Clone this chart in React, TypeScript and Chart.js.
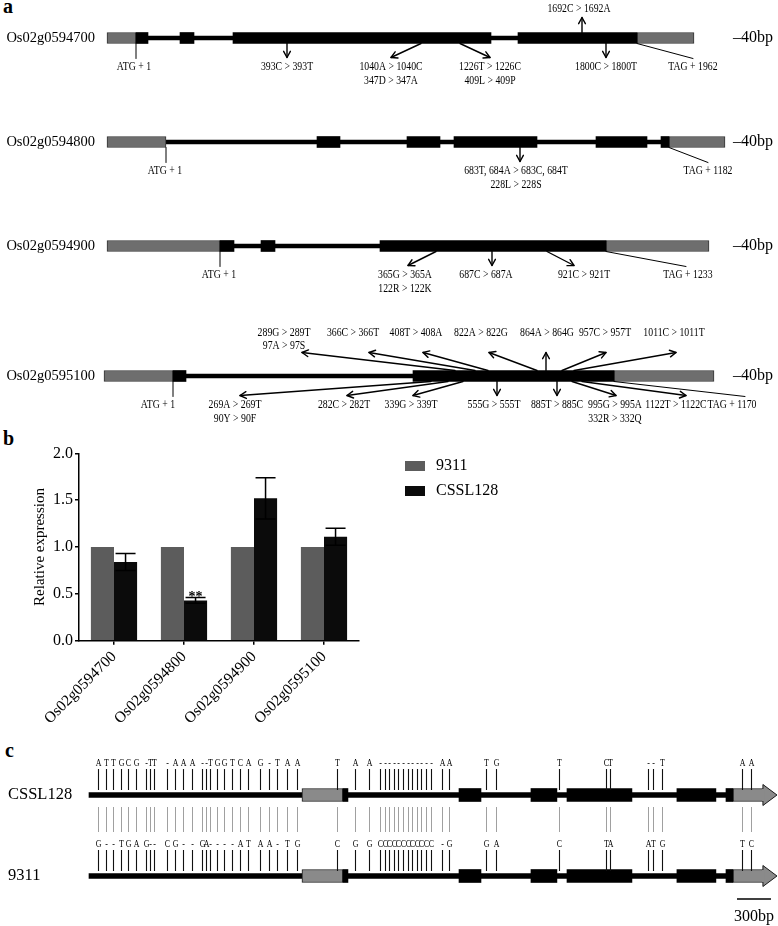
import React, { useEffect, useRef } from 'react';
import { Chart, registerables } from 'chart.js';

Chart.register(...registerables);

const SERIF = '"Liberation Serif", "Times New Roman", Times, serif';

// ---------------- Panel a : gene structures ----------------
const geneIds = ['Os02g0594700', 'Os02g0594800', 'Os02g0594900', 'Os02g0595100'];
// positions along each gene model (diagram units)
const geneUTRs: number[][][] = [
  [[0, 29], [530, 587]],
  [[0, 59], [562, 618]],
  [[0, 113], [499, 602]],
  [[-3, 66], [507, 607]],
];
const geneExons: number[][][] = [
  [[29, 41], [73, 87], [126, 384], [411, 530]],
  [[210, 233], [300, 333], [347, 430], [489, 540], [554, 562]],
  [[113, 127], [154, 168], [273, 499]],
  [[66, 79], [306, 507]],
];
const geneIntrons: number[][] = [[29, 530], [59, 562], [113, 499], [66, 507]];
const geneScaleLabel = '–40bp';
const geneScaleLabelPos = 626;

type Note = { at: number; to: number; tx?: number; side: 'up' | 'down'; kind: 'arrow' | 'line'; lines: string[] };

const notes0594700: Note[] = [
  { at: 29, to: 29, tx: 27, side: 'down', kind: 'line', lines: ['ATG + 1'] },
  { at: 180, to: 180, side: 'down', kind: 'arrow', lines: ['393C > 393T'] },
  { at: 314, to: 284, side: 'down', kind: 'arrow', lines: ['1040A > 1040C', '347D > 347A'] },
  { at: 353, to: 383, side: 'down', kind: 'arrow', lines: ['1226T > 1226C', '409L > 409P'] },
  { at: 499, to: 499, side: 'down', kind: 'arrow', lines: ['1800C > 1800T'] },
  { at: 475, to: 475, tx: 472, side: 'up', kind: 'arrow', lines: ['1692C > 1692A'] },
  { at: 530, to: 586, side: 'down', kind: 'line', lines: ['TAG + 1962'] },
];
const notes0594800: Note[] = [
  { at: 59, to: 59, tx: 58, side: 'down', kind: 'line', lines: ['ATG + 1'] },
  { at: 413, to: 413, tx: 409, side: 'down', kind: 'arrow', lines: ['683T, 684A > 683C, 684T', '228L > 228S'] },
  { at: 562, to: 601, side: 'down', kind: 'line', lines: ['TAG + 1182'] },
];
const notes0594900: Note[] = [
  { at: 113, to: 113, tx: 112, side: 'down', kind: 'line', lines: ['ATG + 1'] },
  { at: 329, to: 301, tx: 298, side: 'down', kind: 'arrow', lines: ['365G > 365A', '122R > 122K'] },
  { at: 385, to: 385, tx: 379, side: 'down', kind: 'arrow', lines: ['687C > 687A'] },
  { at: 440, to: 467, tx: 477, side: 'down', kind: 'arrow', lines: ['921C > 921T'] },
  { at: 499, to: 579, tx: 581, side: 'down', kind: 'line', lines: ['TAG + 1233'] },
];
const notes0595100: Note[] = [
  { at: 348, to: 195, tx: 177, side: 'up', kind: 'arrow', lines: ['289G > 289T', '97A > 97S'] },
  { at: 368, to: 262, tx: 246, side: 'up', kind: 'arrow', lines: ['366C > 366T'] },
  { at: 381, to: 316, tx: 309, side: 'up', kind: 'arrow', lines: ['408T > 408A'] },
  { at: 430, to: 382, tx: 374, side: 'up', kind: 'arrow', lines: ['822A > 822G'] },
  { at: 439, to: 439, tx: 440, side: 'up', kind: 'arrow', lines: ['864A > 864G'] },
  { at: 455, to: 499, tx: 498, side: 'up', kind: 'arrow', lines: ['957C > 957T'] },
  { at: 467, to: 569, tx: 567, side: 'up', kind: 'arrow', lines: ['1011C > 1011T'] },
  { at: 66, to: 66, tx: 51, side: 'down', kind: 'line', lines: ['ATG + 1'] },
  { at: 324, to: 133, tx: 128, side: 'down', kind: 'arrow', lines: ['269A > 269T', '90Y > 90F'] },
  { at: 341, to: 240, tx: 237, side: 'down', kind: 'arrow', lines: ['282C > 282T'] },
  { at: 356, to: 306, tx: 304, side: 'down', kind: 'arrow', lines: ['339G > 339T'] },
  { at: 390, to: 390, tx: 387, side: 'down', kind: 'arrow', lines: ['555G > 555T'] },
  { at: 450, to: 450, side: 'down', kind: 'arrow', lines: ['885T > 885C'] },
  { at: 465, to: 509, tx: 508, side: 'down', kind: 'arrow', lines: ['995G > 995A', '332R > 332Q'] },
  { at: 475, to: 579, tx: 569, side: 'down', kind: 'arrow', lines: ['1122T > 1122C'] },
  { at: 507, to: 638, tx: 625, side: 'down', kind: 'line', lines: ['TAG + 1170'] },
];
const geneNotes = [notes0594700, notes0594800, notes0594900, notes0595100];

// ---------------- Panel b : relative expression ----------------
const exprSeries = ['9311', 'CSSL128'];
const expr9311 = [1.0, 1.0, 1.0, 1.0];
const exprCSSL128 = [0.84, 0.43, 1.52, 1.11];
const errCSSL128 = [0.09, 0.03, 0.22, 0.09];
const sigCSSL128 = ['', '**', '', ''];
const exprTicks = [0, 0.5, 1.0, 1.5, 2.0];

// ---------------- Panel c : sequence alignment (bp) ----------------
const alignRows = ['CSSL128', '9311'];
const cGeneSpan = [0, 5620];
const cUTRs = [[1879, 2241], [5682, 5947]];
const cExons = [[2241, 2285], [3265, 3459], [3900, 4129], [4218, 4791], [5188, 5532], [5621, 5682]];
const cArrowHead = [5947, 6071];
const cAxisMax = 6080;
const snpPos = [
  77, 150, 214, 280, 347, 415, 500, 538, 576, 686, 759, 832, 906, 994, 1032, 1068, 1127, 1191, 1259, 1332,
  1406, 1509, 1591, 1662, 1750, 1833,
  2188, 2347, 2471,
  2568, 2608, 2649, 2690, 2730, 2771, 2811, 2852, 2892, 2933, 2974, 3014,
  3115, 3176, 3503, 3591, 4147, 4562, 4597, 4932, 4976, 5056, 5762, 5841,
];
const snpCSSL128 = ('ATTGCG-TT-AAA--TGGTCAG-TAA' + 'TAA' + '------------' + 'AA' + 'TG' + 'T' + 'CT' + '--T' + 'AA').split('');
const snp9311 = ('G--TGAG--CG--GA----ATAA-TG' + 'CGG' + 'CCCCCCCCCCCC' + '-G' + 'GA' + 'C' + 'TA' + 'ATG' + 'TC').split('');
const scaleBarStart = 5718;
const scaleBarBp = 300;

// ---------------- layout (styling only) ----------------
const ROWS = [
  { center: 38, upText: 24, upArrow: 15 },
  { center: 142, upText: 24, upArrow: 15 },
  { center: 245.5, upText: 24, upArrow: 15 },
  { center: 376, upText: 38, upArrow: 18 },
];
const BAR_HALF = 5.5;

function arrowHead(ctx: CanvasRenderingContext2D, x0: number, y0: number, x1: number, y1: number) {
  const a = Math.atan2(y1 - y0, x1 - x0);
  const len = 7;
  const sp = 0.5;
  ctx.beginPath();
  ctx.moveTo(x1 - len * Math.cos(a - sp), y1 - len * Math.sin(a - sp));
  ctx.lineTo(x1, y1);
  ctx.lineTo(x1 - len * Math.cos(a + sp), y1 - len * Math.sin(a + sp));
  ctx.stroke();
}

function condensedText(ctx: CanvasRenderingContext2D, t: string, x: number, y: number, sx: number) {
  ctx.save();
  ctx.translate(x, y);
  ctx.scale(sx, 1);
  ctx.fillText(t, 0, 0);
  ctx.restore();
}

function geneRowConfig(r: number): any {
  const row = geneIds[r];
  const lay = ROWS[r];
  const seg = (arr: number[][]) => arr.map((s) => ({ x: s, y: row }));
  const notesPlugin = {
    id: 'geneNotes' + r,
    afterDatasetsDraw(chart: any) {
      const ctx: CanvasRenderingContext2D = chart.ctx;
      const xs = chart.scales.x;
      const yc = chart.scales.y.getPixelForValue(0);
      ctx.save();
      ctx.strokeStyle = '#000';
      ctx.fillStyle = '#000';
      ctx.lineCap = 'round';
      ctx.lineJoin = 'round';
      for (const n of geneNotes[r]) {
        const up = n.side === 'up';
        const x0 = xs.getPixelForValue(n.at);
        const x1 = xs.getPixelForValue(n.to);
        const y0 = up ? yc - BAR_HALF : yc + BAR_HALF;
        const len = n.kind === 'line' ? 15 : up ? lay.upArrow : 14;
        const y1 = up ? y0 - len : y0 + len;
        ctx.lineWidth = n.kind === 'line' ? 1 : 1.4;
        ctx.beginPath();
        ctx.moveTo(x0, y0);
        ctx.lineTo(x1, y1);
        ctx.stroke();
        if (n.kind === 'arrow') arrowHead(ctx, x0, y0, x1, y1);
        ctx.font = `11.5px ${SERIF}`;
        ctx.textAlign = 'center';
        ctx.textBaseline = 'middle';
        const tx = xs.getPixelForValue(n.tx ?? n.to);
        const ty = up ? y0 - lay.upText : y0 + 23.5;
        n.lines.forEach((t, i) => condensedText(ctx, t, tx, ty + i * 13.5, 0.85));
      }
      ctx.font = `16px ${SERIF}`;
      ctx.textAlign = 'left';
      ctx.textBaseline = 'middle';
      ctx.fillText(geneScaleLabel, xs.getPixelForValue(geneScaleLabelPos), yc);
      ctx.restore();
    },
  };
  return {
    type: 'bar',
    data: {
      labels: [row],
      datasets: [
        { label: 'exon', data: seg(geneExons[r]), backgroundColor: '#000', barThickness: 11, grouped: false, clip: false, order: 0 },
        {
          label: 'UTR', data: seg(geneUTRs[r]), backgroundColor: '#6e6e6e', borderColor: '#333', borderWidth: 1,
          borderSkipped: false, barThickness: 11, grouped: false, clip: false, order: 1,
        },
        { label: 'intron', data: seg([geneIntrons[r]]), backgroundColor: '#000', barThickness: 4, grouped: false, clip: false, order: 2 },
      ],
    },
    options: {
      indexAxis: 'y',
      animation: false,
      responsive: false,
      devicePixelRatio: 1,
      events: [],
      layout: { padding: { top: 60 - BAR_HALF, bottom: 110 - 60 - BAR_HALF, left: 0, right: 0 } },
      plugins: { legend: { display: false }, tooltip: { enabled: false } },
      scales: {
        x: { type: 'linear', display: false, min: -5, max: 671 },
        y: {
          type: 'category',
          offset: true,
          grid: { display: false, drawTicks: false },
          border: { display: false },
          ticks: { color: '#000', padding: 7, font: { family: SERIF, size: 14.5 } },
          afterFit: (s: any) => { s.width = 102; s.paddingTop = 0; s.paddingBottom = 0; },
        },
      },
    },
    plugins: [notesPlugin],
  };
}

function exprConfig(): any {
  const errPlugin = {
    id: 'errBars',
    afterDatasetsDraw(chart: any) {
      const ctx: CanvasRenderingContext2D = chart.ctx;
      const ys = chart.scales.y;
      const meta = chart.getDatasetMeta(1);
      ctx.save();
      ctx.strokeStyle = '#000';
      ctx.fillStyle = '#000';
      ctx.lineWidth = 1.5;
      meta.data.forEach((bar: any, i: number) => {
        const v = exprCSSL128[i];
        const e = errCSSL128[i];
        const yt = ys.getPixelForValue(v + e);
        const yb = ys.getPixelForValue(v - e);
        ctx.beginPath();
        ctx.moveTo(bar.x, yt); ctx.lineTo(bar.x, yb);
        ctx.moveTo(bar.x - 10, yt); ctx.lineTo(bar.x + 10, yt);
        ctx.moveTo(bar.x - 10, yb); ctx.lineTo(bar.x + 10, yb);
        ctx.stroke();
        if (sigCSSL128[i]) {
          ctx.font = `bold 14px ${SERIF}`;
          ctx.textAlign = 'center';
          ctx.textBaseline = 'alphabetic';
          ctx.fillText(sigCSSL128[i], bar.x, yt + 3);
        }
      });
      ctx.restore();
    },
  };
  const legendPlugin = {
    id: 'boxLegend',
    afterDraw(chart: any) {
      const ctx: CanvasRenderingContext2D = chart.ctx;
      ctx.save();
      ctx.font = `16px ${SERIF}`;
      ctx.textAlign = 'left';
      ctx.textBaseline = 'middle';
      chart.data.datasets.forEach((ds: any, i: number) => {
        const y = 36 + i * 25;
        ctx.fillStyle = ds.backgroundColor;
        ctx.fillRect(405, y - 5, 20, 10);
        ctx.fillStyle = '#000';
        ctx.fillText(ds.label, 436, y);
      });
      ctx.restore();
    },
  };
  return {
    type: 'bar',
    data: {
      labels: geneIds,
      datasets: [
        { label: exprSeries[0], data: expr9311, backgroundColor: '#5c5c5c', categoryPercentage: 0.66, barPercentage: 1 },
        { label: exprSeries[1], data: exprCSSL128, backgroundColor: '#0b0b0b', categoryPercentage: 0.66, barPercentage: 1 },
      ],
    },
    options: {
      animation: false,
      responsive: false,
      devicePixelRatio: 1,
      events: [],
      layout: { padding: { top: 23.3, right: 161, left: 0, bottom: 0 } },
      plugins: { legend: { display: false }, tooltip: { enabled: false } },
      scales: {
        x: {
          grid: { offset: false, drawOnChartArea: false, drawTicks: true, tickLength: 4, color: '#000', lineWidth: 1.5 },
          border: { display: true, color: '#000', width: 1.5 },
          ticks: { color: '#000', autoSkip: false, minRotation: 45, maxRotation: 45, padding: 3, font: { family: SERIF, size: 15.5 } },
          afterFit: (s: any) => { s.height = 84.3; s.paddingLeft = 0; s.paddingRight = 0; },
        },
        y: {
          min: 0,
          max: 2,
          afterBuildTicks: (s: any) => { s.ticks = exprTicks.map((v) => ({ value: v })); },
          grid: { drawOnChartArea: false, drawTicks: true, tickLength: 4, color: '#000', lineWidth: 1.5 },
          border: { display: true, color: '#000', width: 1.5 },
          ticks: { color: '#000', padding: 2, font: { family: SERIF, size: 16 }, callback: (v: any) => Number(v).toFixed(1) },
          title: { display: true, text: 'Relative expression', color: '#000', font: { family: SERIF, size: 15 }, padding: { top: 31, bottom: 0 } },
          afterFit: (s: any) => { s.width = 79; s.paddingTop = 0; s.paddingBottom = 0; },
        },
      },
    },
    plugins: [errPlugin, legendPlugin],
  };
}

function alignConfig(): any {
  const segs = (arr: number[][]) => alignRows.flatMap((r) => arr.map((s) => ({ x: s, y: r })));
  const marksPlugin = {
    id: 'alignMarks',
    afterDatasetsDraw(chart: any) {
      const ctx: CanvasRenderingContext2D = chart.ctx;
      const xs = chart.scales.x;
      const ys = chart.scales.y;
      const yC = ys.getPixelForValue(0);
      const yN = ys.getPixelForValue(1);
      ctx.save();
      // arrow heads of the 3' UTR
      for (const yc of [yC, yN]) {
        const xa = xs.getPixelForValue(cArrowHead[0]);
        const xb = xs.getPixelForValue(cArrowHead[1]);
        ctx.beginPath();
        ctx.moveTo(xa, yc - 10.5);
        ctx.lineTo(xb, yc);
        ctx.lineTo(xa, yc + 10.5);
        ctx.closePath();
        ctx.fillStyle = '#8a8a8a';
        ctx.fill();
        ctx.strokeStyle = '#1a1a1a';
        ctx.lineWidth = 1;
        ctx.stroke();
        ctx.fillRect(xa - 1, yc - 6, 2.5, 12);
      }
      // SNP marks
      ctx.font = `10.5px ${SERIF}`;
      ctx.textAlign = 'center';
      ctx.textBaseline = 'middle';
      snpPos.forEach((p, i) => {
        const x = Math.round(xs.getPixelForValue(p)) + 0.5;
        ctx.strokeStyle = '#111';
        ctx.lineWidth = 1.1;
        ctx.beginPath();
        ctx.moveTo(x, yC - 26); ctx.lineTo(x, yC - 5);
        ctx.moveTo(x, yN - 26); ctx.lineTo(x, yN - 5);
        ctx.stroke();
        ctx.strokeStyle = '#a0a0a0';
        ctx.lineWidth = 1;
        ctx.beginPath();
        ctx.moveTo(x, yC + 12); ctx.lineTo(x, yC + 37);
        ctx.stroke();
        ctx.fillStyle = '#000';
        condensedText(ctx, snpCSSL128[i], x, yC - 32, 0.75);
        condensedText(ctx, snp9311[i], x, yN - 32, 0.75);
      });
      // scale bar
      const s0 = xs.getPixelForValue(scaleBarStart);
      const s1 = xs.getPixelForValue(scaleBarStart + scaleBarBp);
      ctx.strokeStyle = '#000';
      ctx.lineWidth = 1.5;
      ctx.beginPath();
      ctx.moveTo(s0, yN + 23); ctx.lineTo(s1, yN + 23);
      ctx.stroke();
      ctx.font = `16px ${SERIF}`;
      ctx.fillStyle = '#000';
      ctx.textAlign = 'center';
      ctx.fillText(scaleBarBp + 'bp', (s0 + s1) / 2, yN + 41);
      ctx.restore();
    },
  };
  return {
    type: 'bar',
    data: {
      labels: alignRows,
      datasets: [
        { label: 'CDS', data: segs(cExons), backgroundColor: '#000', barThickness: 13, grouped: false, clip: false, order: 0 },
        {
          label: 'UTR', data: segs(cUTRs), backgroundColor: '#8a8a8a', borderColor: '#1a1a1a', borderWidth: 1,
          borderSkipped: false, barThickness: 13, grouped: false, clip: false, order: 1,
        },
        { label: 'gene', data: segs([cGeneSpan]), backgroundColor: '#000', barThickness: 5, grouped: false, clip: false, order: 2 },
      ],
    },
    options: {
      indexAxis: 'y',
      animation: false,
      responsive: false,
      devicePixelRatio: 1,
      events: [],
      layout: { padding: { top: 14.5, bottom: 9.5, left: 8, right: 0 } },
      plugins: { legend: { display: false }, tooltip: { enabled: false } },
      scales: {
        x: { type: 'linear', display: false, min: 0, max: cAxisMax },
        y: {
          type: 'category',
          offset: true,
          grid: { display: false, drawTicks: false },
          border: { display: false },
          ticks: { color: '#000', padding: 0, crossAlign: 'far', font: { family: SERIF, size: 16.5 } },
          afterFit: (s: any) => { s.width = 81; s.paddingTop = 0; s.paddingBottom = 0; },
        },
      },
    },
    plugins: [marksPlugin],
  };
}

function ChartCanvas({ left, top, width, height, make }: { left: number; top: number; width: number; height: number; make: () => any }) {
  const ref = useRef<HTMLCanvasElement>(null);
  useEffect(() => {
    const chart = new Chart(ref.current as HTMLCanvasElement, make());
    return () => chart.destroy();
  }, []);
  return (
    <canvas
      ref={ref}
      width={width}
      height={height}
      style={{ position: 'absolute', left, top, width, height, display: 'block' }}
    />
  );
}

function PanelLetter({ text, left, top }: { text: string; left: number; top: number }) {
  return (
    <div style={{ position: 'absolute', left, top, fontFamily: SERIF, fontSize: 20, fontWeight: 'bold', lineHeight: '20px', color: '#000' }}>
      {text}
    </div>
  );
}

export default function App() {
  return (
    <div style={{ position: 'absolute', left: 0, top: 0, width: 778, height: 926, overflow: 'hidden', background: '#fff' }}>
      <PanelLetter text="a" left={3} top={-4} />
      <PanelLetter text="b" left={3} top={428} />
      <PanelLetter text="c" left={5} top={740} />
      {geneIds.map((g, i) => (
        <ChartCanvas key={g} left={0} top={ROWS[i].center - 60} width={778} height={110} make={() => geneRowConfig(i)} />
      ))}
      <ChartCanvas left={0} top={430} width={520} height={295} make={exprConfig} />
      <ChartCanvas left={0} top={740} width={778} height={186} make={alignConfig} />
    </div>
  );
}
